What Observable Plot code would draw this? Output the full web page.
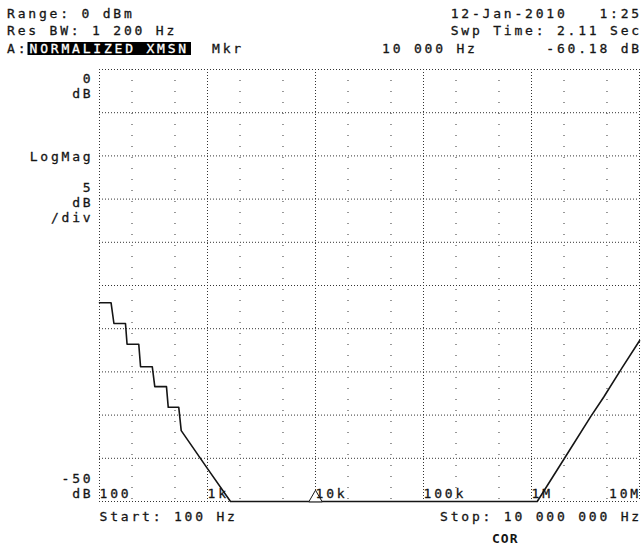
<!DOCTYPE html>
<html><head><meta charset="utf-8">
<script src="https://cdn.jsdelivr.net/npm/d3@7"></script>
<script src="https://cdn.jsdelivr.net/npm/@observablehq/plot@0.6"></script>
<style>
html,body{margin:0;padding:0;background:#fff;}
#chart svg{display:block}
#chart text{white-space:pre}
</style></head><body><div id="chart"></div>
<script>
// Trace; values below -50 dB are clipped by the display
const freqHz  = [100, 128, 136, 174, 180, 231, 240, 308, 325, 417, 433, 542, 571, 1000, 1633, 10000, 1130000, 2140000, 3520000, 4670000, 6910000, 10000000];
const levelDb = [-27.0, -27.0, -29.4, -29.4, -31.8, -31.8, -34.4, -34.4, -36.7, -36.7, -39.1, -39.1, -41.8, -46.2, -50.0, -60.18, -50.0, -44.5, -40.2, -37.9, -34.5, -31.4];

const dbGrid = [0, -5, -10, -15, -20, -25, -30, -35, -40, -45, -50];
const decadeTicks = [100, 1e3, 1e4, 1e5, 1e6, 1e7];
const decadeLabels = ["100", "1k", "10k", "100k", "1M", "10M"];
const minorTicks = [200, 500, 2e3, 5e3, 2e4, 5e4, 2e5, 5e5, 2e6, 5e6];

const yLabelTop = {value: 0, text: "0\ndB"};
const yLabelLog = {value: -10, text: "LogMag"};
const yLabelDiv = {value: -15, text: "5\ndB\n/div"};
const yLabelBottom = {value: -50, text: "-50\ndB"};

const markerHz = 10000;
const markerDb = -60.18;

const headerRange = "Range: 0 dBm";
const headerResBw = "Res BW: 1 200 Hz";
const headerTrace = "A:";
const headerTraceName = "NORMALIZED XMSN";
const headerMkr = "Mkr";
const headerMkrFreq = "10 000 Hz";
const headerMkrVal = "-60.18 dB";
const headerDate = "12-Jan-2010   1:25";
const headerSwp = "Swp Time: 2.11 Sec";
const footerStart = "Start: 100 Hz";
const footerStop = "Stop: 10 000 000 Hz";
const footerCor = "COR";

const trace = freqHz.map((f, i) => ({f, db: levelDb[i]}));
const ticks = decadeTicks.map((f, i) => ({f, label: decadeLabels[i]}));
const ink = "#151515";
const grid = "#333";
const font = "'DejaVu Sans Mono', monospace";
const heavy = {stroke: ink, strokeWidth: 0.3};

const chart = Plot.plot({
  width: 644, height: 547,
  marginLeft: 99, marginRight: 5, marginTop: 69, marginBottom: 46,
  x: {type: "log", domain: [100, 1e7], axis: null},
  y: {domain: [-50, 0], clamp: true, axis: null},
  style: {fontFamily: font, fontSize: "13px", color: ink, background: "#fff", letterSpacing: "2.8px", overflow: "visible"},
  marks: [
    Plot.ruleX(minorTicks, {stroke: grid, strokeDasharray: "1,10", strokeOpacity: 1}),
    Plot.ruleY(dbGrid, {stroke: grid, strokeDasharray: "1,2", strokeOpacity: 1}),
    Plot.ruleX(decadeTicks, {stroke: grid, strokeDasharray: "1,2", strokeOpacity: 1}),
    Plot.line(trace, {x: "f", y: "db", stroke: ink, strokeWidth: 1.6}),
    Plot.dot([{f: markerHz, db: markerDb}], {x: "f", y: "db", symbol: "triangle", r: 5, fill: "white", stroke: ink, strokeWidth: 1, dy: -3.5}),
    Plot.text([yLabelTop], {y: "value", text: "text", frameAnchor: "left", textAnchor: "end", lineAnchor: "top", dx: -6, dy: 3, lineHeight: 1.15, fill: ink, ...heavy}),
    Plot.text([yLabelLog], {y: "value", text: "text", frameAnchor: "left", textAnchor: "end", lineAnchor: "middle", dx: -6, dy: 1, fill: ink, ...heavy}),
    Plot.text([yLabelDiv], {y: "value", text: "text", frameAnchor: "left", textAnchor: "end", lineAnchor: "middle", dx: -6, dy: 3, lineHeight: 1.15, fill: ink, ...heavy}),
    Plot.text([yLabelBottom], {y: "value", text: "text", frameAnchor: "left", textAnchor: "end", lineAnchor: "bottom", dx: -6, dy: -4, lineHeight: 1.15, fill: ink, ...heavy}),
    Plot.text(ticks.slice(0, -1), {x: "f", y: () => -50, text: "label", textAnchor: "start", lineAnchor: "bottom", dx: 0, dy: -4, fill: ink, ...heavy}),
    Plot.text(ticks.slice(-1), {x: "f", y: () => -50, text: "label", textAnchor: "end", lineAnchor: "bottom", dx: 1.5, dy: -4, fill: ink, ...heavy})
  ]
});
document.getElementById("chart").append(chart);

const svg = d3.select(chart);
const g = svg.append("g").attr("fill", ink).attr("stroke", ink).attr("stroke-width", 0.3)
  .attr("font-family", font).attr("font-size", 13);
function label(str, x, y, anchor = "start") {
  return g.append("text").attr("x", x).attr("y", y).attr("text-anchor", anchor).text(str);
}
label(headerRange, 7, 17.5);
label(headerResBw, 7, 35);
label(headerTrace, 7, 52.5);
g.append("rect").attr("x", 27.5).attr("y", 42).attr("width", 163.5).attr("height", 13).attr("fill", "#000").attr("stroke", "none");
label(headerTraceName, 29.5, 52.5).attr("fill", "#fff").attr("stroke", "#fff");
label(headerMkr, 212, 52.5);
label(headerMkrFreq, 382, 52.5);
label(headerDate, 642, 17.5, "end");
label(headerSwp, 642, 35, "end");
label(headerMkrVal, 642, 52.5, "end");
label(footerStart, 99.5, 521);
label(footerStop, 642, 521, "end");
label(footerCor, 492, 543).attr("font-weight", "bold").attr("font-size", 13).attr("stroke", "none").style("letter-spacing", "1px");
</script></body></html>
